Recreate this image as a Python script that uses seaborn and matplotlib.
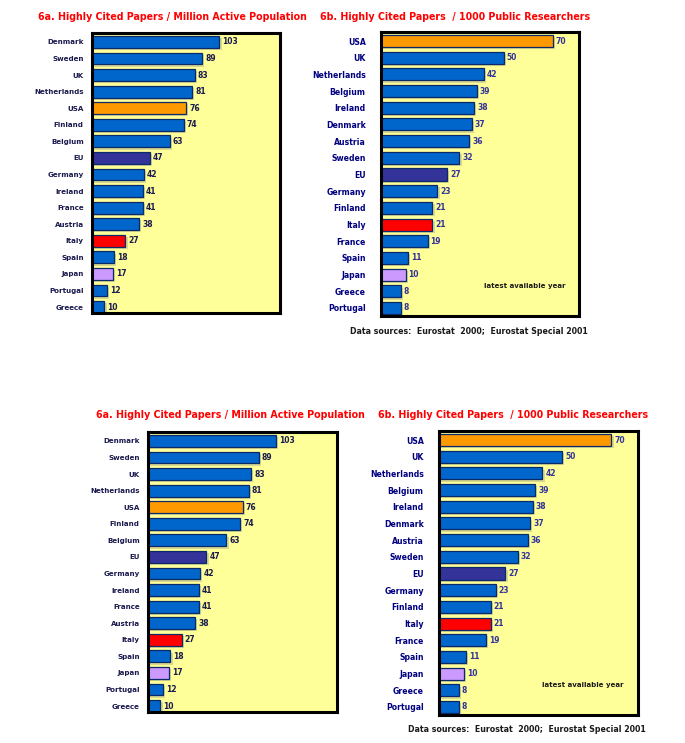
import matplotlib
matplotlib.use("Agg")
import matplotlib.pyplot as plt
import matplotlib.patheffects as pe
import seaborn as sns
import pandas as pd

sns.set_theme(style="white")
plt.rcParams['font.family'] = ['DejaVu Sans']

# ---- data ----
cats_a = ["Denmark", "Sweden", "UK", "Netherlands", "USA", "Finland", "Belgium", "EU",
          "Germany", "Ireland", "France", "Austria", "Italy", "Spain", "Japan", "Portugal", "Greece"]
vals_a = [103, 89, 83, 81, 76, 74, 63, 47, 42, 41, 41, 38, 27, 18, 17, 12, 10]

cats_b = ["USA", "UK", "Netherlands", "Belgium", "Ireland", "Denmark", "Austria", "Sweden", "EU",
          "Germany", "Finland", "Italy", "France", "Spain", "Japan", "Greece", "Portugal"]
vals_b = [70, 50, 42, 39, 38, 37, 36, 32, 27, 23, 21, 21, 19, 11, 10, 8, 8]

title_a = "6a. Highly Cited Papers / Million Active Population"
title_b = "6b. Highly Cited Papers  / 1000 Public Researchers"
note_b = "latest available year"
source_b = "Data sources:  Eurostat  2000;  Eurostat Special 2001"

special = {"USA": "#FF9900", "EU": "#333399", "Italy": "#FF0000", "Japan": "#CC99FF"}
default_col = "#0066CC"

W, H = 685, 743
fig = plt.figure(figsize=(W / 100, H / 100), dpi=100)


def px(x, y):
    return x / W, 1 - y / H


def add_ax(x0, y0, x1, y1):
    return fig.add_axes([x0 / W, 1 - y1 / H, (x1 - x0) / W, (y1 - y0) / H])


def panel(ax, cats, vals, xmax, ylim, lab_col, val_col, lab_size, pad):
    df = pd.DataFrame({"cat": cats, "val": vals})
    pal = {c: special.get(c, default_col) for c in cats}
    sns.barplot(data=df, x="val", y="cat", hue="cat", palette=pal, legend=False,
                orient="h", ax=ax, width=0.72, edgecolor="#0a2a6a", linewidth=0.9,
                saturation=1)
    for p in ax.patches:
        p.set_path_effects([pe.SimplePatchShadow(offset=(1.6, -1.6), shadow_rgbFace="#d8d890",
                                                 alpha=1.0), pe.Normal()])
    ax.set_facecolor("#FFFF99")
    ax.set_xlim(0, xmax)
    ax.set_ylim(*ylim)
    ax.set_xlabel("")
    ax.set_ylabel("")
    ax.set_xticks([])
    for s in ax.spines.values():
        s.set_visible(True)
        s.set_color("black")
        s.set_linewidth(2.2)
        s.set_zorder(5)
    ax.tick_params(axis="y", length=0, pad=pad)
    for t in ax.get_yticklabels():
        t.set_fontsize(lab_size)
        t.set_fontweight("bold")
        t.set_color(lab_col)
    for cont in ax.containers:
        ax.bar_label(cont, fmt="%d", padding=2.2, fontsize=5.5, fontweight="bold", color=val_col)


# top-left
ax1 = add_ax(92, 33, 280, 313)
panel(ax1, cats_a, vals_a, 152, (16.36, -0.54), "#1a1a4e", "#1a1a4e", 5.1, 6)
fig.text(*px(172, 17), title_a, color="#FF0000", fontsize=6.85, fontweight="bold",
         ha="center", va="center")

# top-right
ax2 = add_ax(381, 32, 579, 316)
panel(ax2, cats_b, vals_b, 80.8, (16.48, -0.54), "#000080", "#333399", 5.6, 11)
fig.text(*px(455, 17), title_b, color="#FF0000", fontsize=6.85, fontweight="bold",
         ha="center", va="center")
ax2.text(0.52, 0.105, note_b, transform=ax2.transAxes, fontsize=5.0,
         fontweight="bold", color="#1a1a1a", ha="left", va="center")
fig.text(*px(469, 332), source_b, fontsize=5.7, fontweight="bold", color="#1a1a1a",
         ha="center", va="center")

# bottom-left
ax3 = add_ax(148, 432, 337, 712)
panel(ax3, cats_a, vals_a, 152, (16.36, -0.54), "#1a1a4e", "#1a1a4e", 5.1, 6)
fig.text(*px(230, 415), title_a, color="#FF0000", fontsize=6.85, fontweight="bold",
         ha="center", va="center")

# bottom-right
ax4 = add_ax(439, 431, 638, 715)
panel(ax4, cats_b, vals_b, 80.8, (16.48, -0.54), "#000080", "#333399", 5.6, 11)
fig.text(*px(513, 415), title_b, color="#FF0000", fontsize=6.85, fontweight="bold",
         ha="center", va="center")
ax4.text(0.52, 0.105, note_b, transform=ax4.transAxes, fontsize=5.0,
         fontweight="bold", color="#1a1a1a", ha="left", va="center")
fig.text(*px(527, 730), source_b, fontsize=5.7, fontweight="bold", color="#1a1a1a",
         ha="center", va="center")

fig.savefig("out.png", dpi=100, facecolor="white")
